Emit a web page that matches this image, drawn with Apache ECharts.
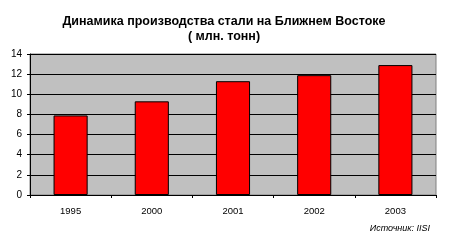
<!DOCTYPE html>
<html><head><meta charset="utf-8">
<script src="https://cdn.jsdelivr.net/npm/echarts@6/dist/echarts.min.js"></script>
<style>html,body{margin:0;padding:0;background:#fff}#c{width:450px;height:250px}</style>
</head><body><div id="c"></div>
<script>
var titleText = 'Динамика производства стали на Ближнем Востоке\n( млн. тонн)';
var sourceText = 'Источник: IISI';
var categories = ['1995', '2000', '2001', '2002', '2003'];
var production = [7.9, 9.3, 11.3, 11.9, 12.9];
var yTicks = [0, 2, 4, 6, 8, 10, 12, 14];

var chart = echarts.init(document.getElementById('c'), null, {renderer: 'canvas'});
chart.setOption({
  animation: false,
  backgroundColor: '#fff',
  title: [{
    text: titleText,
    left: 219, top: 9, textAlign: 'center',
    textStyle: {fontFamily: 'Liberation Sans, Arial', fontWeight: 'bold', fontSize: 12.5, color: '#000', lineHeight: 15}
  }, {
    text: sourceText,
    right: 15, top: 219,
    textStyle: {fontFamily: 'Liberation Sans, Arial', fontStyle: 'italic', fontWeight: 'normal', fontSize: 9, color: '#000'}
  }],
  grid: {left: 30, right: 14, top: 54, bottom: 55, show: true, backgroundColor: '#C0C0C0', borderColor: '#808080', borderWidth: 1},
  xAxis: {
    type: 'category', data: categories,
    axisLine: {lineStyle: {color: '#000', width: 1}},
    axisTick: {show: true, length: 3, inside: false, alignWithLabel: false, lineStyle: {color: '#000'}},
    axisLabel: {fontFamily: 'Liberation Sans, Arial', fontSize: 9.5, color: '#000', margin: 11}
  },
  yAxis: {
    type: 'value', min: yTicks[0], max: yTicks[yTicks.length - 1], interval: 2,
    axisLine: {show: true, lineStyle: {color: '#000', width: 1}},
    axisTick: {show: true, length: 3, lineStyle: {color: '#000'}},
    axisLabel: {fontFamily: 'Liberation Sans, Arial', fontSize: 10, color: '#000', margin: 8},
    splitLine: {show: true, lineStyle: {color: '#000', width: 1}}
  },
  series: [{
    type: 'bar', data: production,
    barCategoryGap: '58%',
    itemStyle: {color: '#FF0000', borderColor: '#000', borderWidth: 1}
  }]
});
</script></body></html>
